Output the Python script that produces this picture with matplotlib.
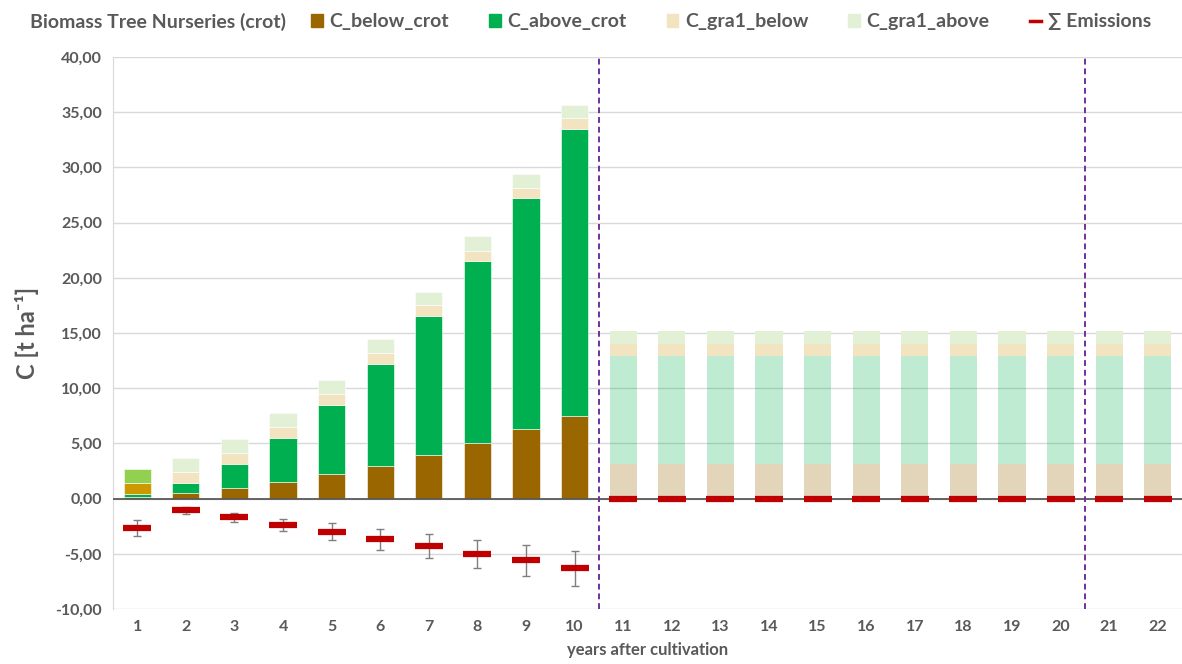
import matplotlib
matplotlib.use("Agg")
import matplotlib.pyplot as plt
from matplotlib.patches import Patch
from matplotlib.lines import Line2D
from matplotlib.ticker import FuncFormatter, MultipleLocator
import numpy as np

plt.rcParams["font.family"] = ["Lato", "DejaVu Sans"]
plt.rcParams["font.weight"] = "bold"

# data
years = list(range(1, 23))
below_crot = [0.16, 0.47, 0.98, 1.47, 2.20, 2.98, 3.97, 5.00, 6.27, 7.52] + [3.12] * 12
above_crot = [0.22, 0.99, 2.20, 4.01, 6.29, 9.22, 12.53, 16.53, 20.93, 25.93] + [9.84] * 12
gra1_below = [1.02, 0.96, 0.96, 1.02, 1.00, 1.00, 1.05, 0.94, 0.95, 1.05] + [1.06] * 12
gra1_above = [1.24, 1.30, 1.30, 1.24, 1.26, 1.28, 1.21, 1.29, 1.25, 1.20] + [1.20] * 12
emissions = [-2.66, -1.07, -1.70, -2.39, -3.00, -3.69, -4.29, -4.98, -5.60, -6.31] + [0.0] * 12
emis_err = [0.70, 0.28, 0.40, 0.57, 0.75, 0.93, 1.12, 1.26, 1.42, 1.60] + [0.0] * 12

BROWN = "#996600"
GREEN = "#00B050"
BEIGE = "#F2E4C0"
LGREEN = "#E2F0D6"
RED = "#C00000"
TXT = "#595959"

fig = plt.figure(figsize=(11.82, 6.64), dpi=100)
ax = fig.add_axes([0.0956, 0.0828, 0.9044, 0.8313])

x = np.array(years)
w = 0.56
n_crot = 10

b1 = np.array(below_crot)
b2 = np.array(above_crot)
b3 = np.array(gra1_below)
b4 = np.array(gra1_above)

# years 1-10: crop rotation bars
xs = x[:n_crot]
ax.bar(xs, b1[:n_crot], w, color=BROWN, edgecolor="white", linewidth=0.4, zorder=2)
ax.bar(xs, b2[:n_crot], w, bottom=b1[:n_crot], color=GREEN, edgecolor="white", linewidth=0.4, zorder=2)
c3 = ["#CC9900"] + [BEIGE] * (n_crot - 1)
c4 = ["#92D050"] + [LGREEN] * (n_crot - 1)
ax.bar(xs, b3[:n_crot], w, bottom=(b1 + b2)[:n_crot], color=c3, edgecolor="white", linewidth=0.4, zorder=2)
ax.bar(xs, b4[:n_crot], w, bottom=(b1 + b2 + b3)[:n_crot], color=c4, edgecolor="white", linewidth=0.4, zorder=2)

# years 11-22: faded bars
xs = x[n_crot:]
ax.bar(xs, b1[n_crot:], w, color=BROWN, alpha=0.27, linewidth=0, zorder=2)
ax.bar(xs, b2[n_crot:], w, bottom=b1[n_crot:], color=GREEN, alpha=0.25, linewidth=0, zorder=2)
ax.bar(xs, b3[n_crot:], w, bottom=(b1 + b2)[n_crot:], color=BEIGE, linewidth=0, zorder=2)
ax.bar(xs, b4[n_crot:], w, bottom=(b1 + b2 + b3)[n_crot:], color=LGREEN, linewidth=0, zorder=2)

# emissions with error bars
ax.errorbar(x[:n_crot], emissions[:n_crot], yerr=emis_err[:n_crot], fmt="none",
            ecolor="#7F7F7F", elinewidth=1, capsize=3, capthick=1, zorder=3)
ax.plot(x, emissions, linestyle="none", marker="_", markersize=20,
        markeredgewidth=4.5, color=RED, zorder=4)

ax.axhline(0, color="#595959", linewidth=1.3, zorder=3)
ax.axvline(10.5, color="#7030A0", linestyle=(0, (3, 2)), linewidth=1.4, zorder=3)
ax.axvline(20.5, color="#7030A0", linestyle=(0, (3, 2)), linewidth=1.4, zorder=3)

ax.set_xlim(0.5, 22.5)
ax.set_ylim(-10, 40)
ax.yaxis.set_major_locator(MultipleLocator(5))
ax.yaxis.set_major_formatter(FuncFormatter(lambda v, p: f"{v:.2f}".replace(".", ",")))
ax.set_xticks(years)
ax.grid(axis="y", color="#D9D9D9", linewidth=1, zorder=0)
ax.set_axisbelow(True)
for s in ["top", "right", "bottom"]:
    ax.spines[s].set_visible(False)
ax.spines["left"].set_color("#D9D9D9")
ax.tick_params(length=0, labelsize=11.5, labelcolor=TXT, pad=8)
for lbl in ax.get_xticklabels() + ax.get_yticklabels():
    lbl.set_fontweight("bold")

ax.set_ylabel("C [t ha⁻¹]", fontsize=17, color=TXT, fontweight="bold", labelpad=12)
ax.set_xlabel("years after cultivation", fontsize=12, color=TXT, fontweight="bold", labelpad=6)

# legend row at the top
fig.text(0.025, 0.967, "Biomass Tree Nurseries (crot)", fontsize=14, color=TXT,
         fontweight="bold", va="center")
handles = [
    Patch(color=BROWN),
    Patch(color=GREEN),
    Patch(color=BEIGE),
    Patch(color=LGREEN),
    Line2D([0], [0], color=RED, linewidth=2.5),
]
labels = ["C_below_crot", "C_above_crot", "C_gra1_below", "C_gra1_above", "∑ Emissions"]
leg = fig.legend(handles, labels, loc="center left", bbox_to_anchor=(0.2516, 0.967), ncol=5,
                 frameon=False, handlelength=0.6, handleheight=0.6, handletextpad=0.35,
                 columnspacing=2.05, fontsize=14, borderpad=0.2)
for t in leg.get_texts():
    t.set_color(TXT)
    t.set_fontweight("bold")

plt.savefig("out.png", dpi=100)
plt.close()
